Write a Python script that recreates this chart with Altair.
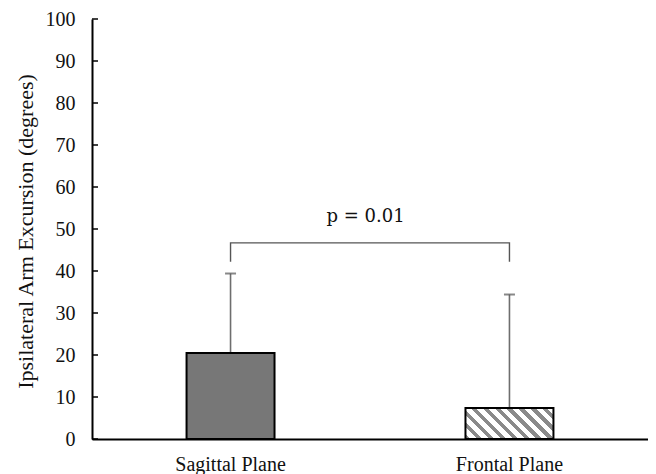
import altair as alt
import pandas as pd

# ---- data ----
categories = ["Sagittal Plane", "Frontal Plane"]
means = [20.5, 7.4]
errors = [18.9, 27.0]          # upper error bar length
bracket_low = 42.2
bracket_high = 46.7
p_label = "p = 0.01"
p_y = 52.9
y_ticks = [0, 10, 20, 30, 40, 50, 60, 70, 80, 90, 100]

# ---- layout ----
W, H = 556, 420
pad_inner, pad_outer = 0.6846, 0.339

df = pd.DataFrame({"cat": categories, "mean": means,
                   "upper": [m + e for m, e in zip(means, errors)]})
bracket_df = pd.DataFrame({
    "cat": [categories[0], categories[0], categories[1], categories[1]],
    "y": [bracket_low, bracket_high, bracket_high, bracket_low],
    "o": [0, 1, 2, 3],
})
tick_df = pd.DataFrame({"v": y_ticks})
text_df = pd.DataFrame({"cat": [categories[0]], "y": [p_y], "t": [p_label]})

xscale = alt.Scale(domain=categories, paddingInner=pad_inner, paddingOuter=pad_outer)
yscale = alt.Scale(domain=[0, 100], nice=False)

X = alt.X("cat:N", scale=xscale, sort=categories,
          axis=alt.Axis(title=None, labelAngle=0, ticks=False, tickSize=0,
                        labelFont="Liberation Serif", labelFontSize=20,
                        labelColor="#111111", labelBaseline="alphabetic",
                        labelPadding=31, domainColor="black", domainWidth=2))
Y = alt.Y("mean:Q", scale=yscale,
          axis=alt.Axis(title="Ipsilateral Arm Excursion (degrees)", values=y_ticks,
                        grid=False, ticks=False, tickSize=0, labelPadding=17,
                        labelFont="Liberation Serif", labelFontSize=20,
                        labelColor="#111111", domainColor="black", domainWidth=2,
                        titleFont="Liberation Serif", titleFontSize=22,
                        titleFontWeight="normal", titleColor="#111111",
                        titleX=-67, titleY=H / 2 + 2, titleAngle=-90,
                        titleAlign="center", titleBaseline="middle"))

# hatch fill as a hard-stop linear gradient (stripes running top-left to bottom-right)
step = W / (len(categories) - pad_inner + 2 * pad_outer)
bw = step * (1 - pad_inner)
bh = means[1] / 100 * H
r = bh / bw
s = (1 + r) / (1 + r * r)
n = 10
frac = 0.45
stops = []
for k in range(n):
    a = k / n
    b = (k + frac) / n
    c = (k + 1) / n
    stops += [{"offset": a, "color": "#8a8a8a"}, {"offset": b, "color": "#8a8a8a"},
              {"offset": b, "color": "#ffffff"}, {"offset": c, "color": "#ffffff"}]
hatch = alt.Gradient(gradient="linear", x1=0, y1=1, x2=s, y2=1 - s * r, stops=stops)

base = alt.Chart(df)

bar1 = base.transform_filter(alt.datum.cat == categories[0]).mark_bar(
    fill="#777777", stroke="black", strokeWidth=2).encode(x=X, y=Y)
bar2 = base.transform_filter(alt.datum.cat == categories[1]).mark_bar(
    fill=hatch, stroke="black", strokeWidth=2).encode(x=X, y=Y)

err = base.mark_rule(color="#6e6e6e", strokeWidth=1.6).encode(
    x=X, y=alt.Y("mean:Q", scale=yscale), y2="upper:Q")
cap = base.mark_tick(color="#555555", thickness=2, size=11, orient="horizontal").encode(
    x=X, y=alt.Y("upper:Q", scale=yscale))

bracket = alt.Chart(bracket_df).mark_line(color="#555555", strokeWidth=1.4).encode(
    x=X, y=alt.Y("y:Q", scale=yscale), order="o:O")

ptext = alt.Chart(text_df).mark_text(font="DejaVu Serif", fontSize=18, color="#111111",
                                     dx=135, baseline="middle").encode(
    x=X, y=alt.Y("y:Q", scale=yscale), text="t:N")

ticks = alt.Chart(tick_df).mark_rule(color="black", strokeWidth=1.5).encode(
    x=alt.value(0), x2=alt.value(6), y=alt.Y("v:Q", scale=yscale))

chart = alt.layer(err, cap, bar1, bar2, bracket, ptext, ticks).properties(
    width=W, height=H,
    autosize=alt.AutoSizeParams(type="none"),
    padding={"left": 84, "top": 11, "right": 0, "bottom": 35},
).configure_view(stroke=None)

chart.save("out.html", embed_options={"renderer": "svg", "actions": False})
